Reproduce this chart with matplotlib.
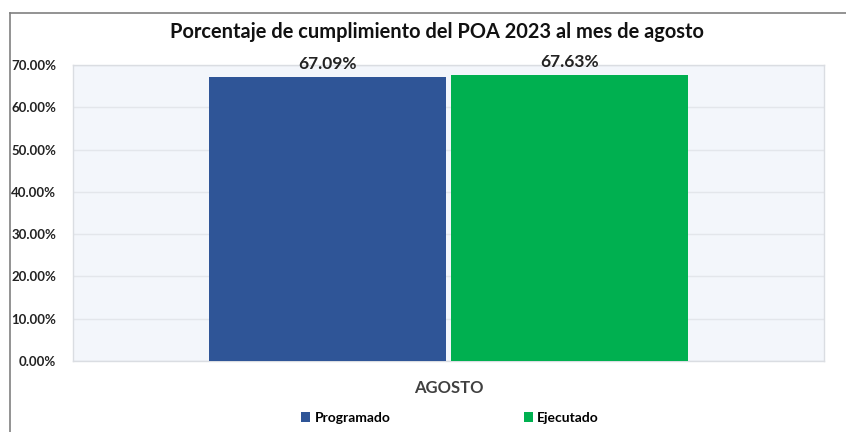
import matplotlib.pyplot as plt
from matplotlib.lines import Line2D

plt.rcParams['font.family'] = ['Lato', 'DejaVu Sans']

categoria = "AGOSTO"
series = ["Programado", "Ejecutado"]
valores = [0.6709, 0.6763]
colores = ["#2F5597", "#00B050"]
yticks = [0.0, 0.1, 0.2, 0.3, 0.4, 0.5, 0.6, 0.7]

fig = plt.figure(figsize=(8.46, 4.32), dpi=100)
ax = fig.add_axes([73 / 846, 1 - 361 / 432, 751 / 846, (361 - 65) / 432])
ax.set_facecolor("#F3F6FB")

# marco del gráfico (arriba e izquierda)
fig.add_artist(Line2D([10 / 846, 1.0], [1 - 13 / 432, 1 - 13 / 432], color="#808080", lw=1.2))
fig.add_artist(Line2D([10 / 846, 10 / 846], [0, 1 - 13 / 432], color="#808080", lw=1.2))

ancho = 237 / 751
sep = 5 / 751
posiciones = [-(ancho + sep) / 2, (ancho + sep) / 2]
for x, v, c, s in zip(posiciones, valores, colores, series):
    ax.bar(x, v, width=ancho, color=c, label=s, zorder=3)
    ax.text(x, v + 0.013, f"{v * 100:.2f}%", ha="center", va="bottom",
            fontsize=12.5, fontweight="bold", color="#222222", zorder=4)

ax.set_xlim(-0.5, 0.5)
ax.set_ylim(0, 0.70)
ax.set_yticks(yticks)
ax.set_yticklabels([f"{t * 100:.2f}%" for t in yticks], fontsize=9.5,
                   fontweight="bold", color="#222222")
ax.set_xticks([0])
ax.set_xticklabels([categoria], fontsize=12, fontweight="bold", color="#404040")
ax.tick_params(axis="both", length=0)
ax.tick_params(axis="y", pad=12)
ax.tick_params(axis="x", pad=14)
ax.grid(axis="y", color="#E3E6EB", lw=1, zorder=0)
for lado in ax.spines.values():
    lado.set_color("#DADDE2")
    lado.set_linewidth(1)

fig.text(437 / 846, 1 - 32 / 432, "Porcentaje de cumplimiento del POA 2023 al mes de agosto",
         ha="center", va="center", fontsize=14.4, fontweight="bold", color="#111111")

fig.legend(loc="center", bbox_to_anchor=(450 / 846, 1 - 418 / 432), ncol=2,
           frameon=False, handlelength=0.65, handleheight=0.65, columnspacing=9.6,
           handletextpad=0.3, prop={"size": 10, "weight": "bold"})

fig.savefig("out.png", dpi=100)
